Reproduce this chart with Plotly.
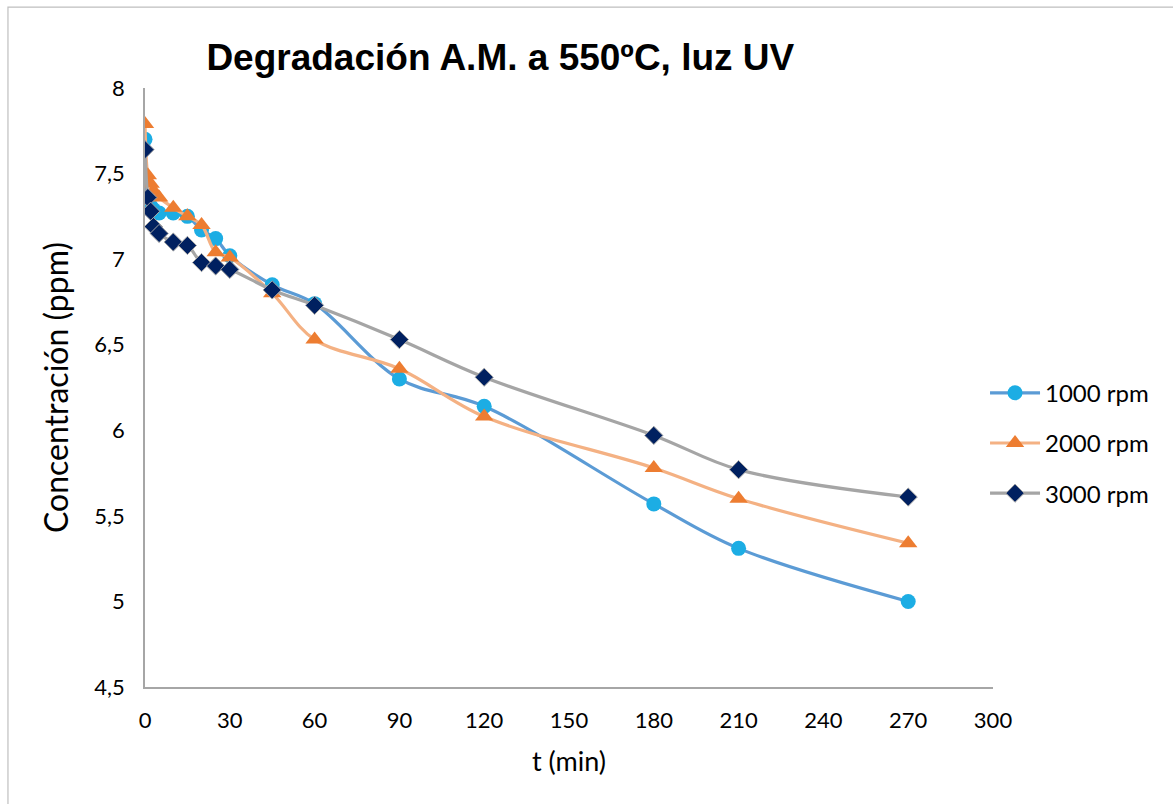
import plotly.graph_objects as go

t_min = [0, 1, 2, 3, 5, 10, 15, 20, 25, 30, 45, 60, 90, 120, 180, 210, 270]
c_1000 = [7.70, 7.34, 7.31, 7.29, 7.27, 7.27, 7.25, 7.17, 7.12, 7.02, 6.85, 6.74, 6.30, 6.14, 5.57, 5.31, 5.00]
c_2000 = [7.79, 7.49, 7.44, 7.40, 7.36, 7.30, 7.25, 7.20, 7.04, 7.01, 6.80, 6.53, 6.36, 6.08, 5.78, 5.60, 5.34]
c_3000 = [7.64, 7.36, 7.28, 7.19, 7.15, 7.10, 7.08, 6.98, 6.96, 6.94, 6.82, 6.73, 6.53, 6.31, 5.97, 5.77, 5.61]

series_names = ["1000 rpm", "2000 rpm", "3000 rpm"]
x_ticks = [0, 30, 60, 90, 120, 150, 180, 210, 240, 270, 300]
y_ticks = [4.5, 5, 5.5, 6, 6.5, 7, 7.5, 8]

font_main = "Lato, 'Open Sans', sans-serif"
smooth = 1.0

fig = go.Figure()
fig.add_trace(go.Scatter(
    x=t_min, y=c_1000, name=series_names[0], mode="lines+markers", legendgroup="a",
    line=dict(color="#5B9BD5", width=3.2, shape="spline", smoothing=smooth),
    marker=dict(symbol="circle", size=15, color="#1CADE4"),
))
fig.add_trace(go.Scatter(
    x=t_min, y=c_2000, name=series_names[1], mode="lines+markers", legendgroup="b",
    line=dict(color="#F4B183", width=3.2, shape="spline", smoothing=smooth),
    marker=dict(symbol="triangle-up", size=16, color="#ED7D31"),
))
fig.add_trace(go.Scatter(
    x=t_min, y=c_3000, name=series_names[2], mode="lines+markers", legendgroup="c",
    line=dict(color="#A5A5A5", width=3.2, shape="spline", smoothing=smooth),
    marker=dict(symbol="diamond", size=14, color="#002060",
                line=dict(color="#A5A5A5", width=1)),
))

fig.update_layout(
    width=1173, height=804,
    margin=dict(l=145, r=180, t=88, b=117),
    paper_bgcolor="white", plot_bgcolor="white",
    separators=",.",
    font=dict(family=font_main, size=21, color="#000000"),
    title=dict(
        text="<b>Degradación A.M. a 550ºC, luz UV</b>",
        font=dict(family="'Liberation Sans', Arial, sans-serif", size=37, color="#000000"),
        x=0.419, xanchor="center", xref="paper",
        y=1 - 57 / 804, yanchor="middle",
    ),
    xaxis=dict(
        range=[0, 300], tickvals=x_ticks, showgrid=False, zeroline=False,
        showline=True, linecolor="#A6A6A6", linewidth=1.5, ticks="",
        tickfont=dict(size=22), ticklabelstandoff=13,
        title=dict(text="t (min)", font=dict(size=27), standoff=20),
    ),
    yaxis=dict(
        range=[4.5, 8], tickvals=y_ticks, showgrid=False, zeroline=False,
        showline=True, linecolor="#A6A6A6", linewidth=1.5, ticks="",
        tickfont=dict(size=22), ticklabelstandoff=14,
        title=dict(text="Concentración (ppm)", font=dict(size=32), standoff=16),
    ),
    legend=dict(
        x=0.9906, xanchor="left", y=0.407, yanchor="middle",
        font=dict(size=24), tracegroupgap=16, itemwidth=50,
        bgcolor="rgba(0,0,0,0)",
    ),
    showlegend=True,
)

fig.add_shape(type="rect", xref="paper", yref="paper",
              x0=-0.1616, x1=1.23, y0=-0.21, y1=1.135,
              line=dict(color="#BFBFBF", width=1.2), fillcolor="rgba(0,0,0,0)",
              layer="below")

fig.write_html("out.html")
